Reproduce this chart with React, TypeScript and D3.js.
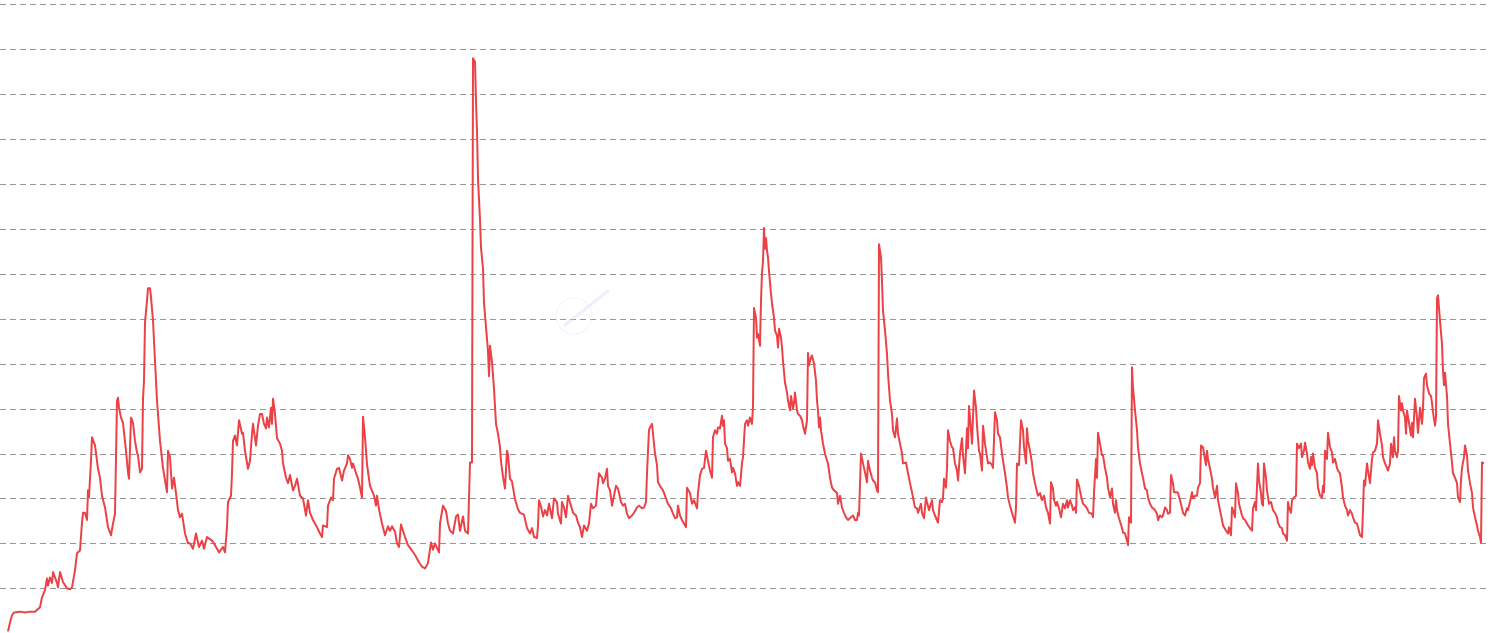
import React, { useEffect, useRef } from 'react';
import * as d3 from 'd3';

// [day, level] pairs, split into stretches
const part1: [number, number][] = [
  [0, 0.2], [2, 1.2], [4, 2.0], [6, 2.3], [12, 2.4], [17, 2.3], [22, 2.4], [27, 2.4], [30, 2.7], [32, 2.9],
  [34, 4.0], [37, 4.8], [39, 6.1], [40, 5.3], [42, 6.2], [44, 5.6], [45, 6.8], [49, 5.6], [50, 5.1], [52, 6.8],
  [55, 5.7], [59, 5.0], [62, 4.9], [64, 5.1], [67, 7.0], [69, 8.9], [72, 9.2], [74, 12.3], [75, 13.4], [77, 13.4],
  [79, 12.6], [80, 15.9], [81, 15.1], [83, 19.2], [84, 21.8], [87, 20.9], [90, 18.3], [92, 17.3], [94, 15.3], [97, 14.0],
  [100, 11.8], [103, 10.9], [105, 12.2], [107, 13.3], [109, 25.9], [110, 26.2], [111, 25.1], [113, 24.0], [115, 23.4], [118, 20.3],
  [120, 17.9], [121, 17.2], [123, 24.0], [125, 23.4], [127, 21.4], [129, 20.1], [130, 19.8], [132, 17.9], [134, 18.3], [135, 26.1],
  [136, 28.1], [137, 34.6], [139, 37.0], [140, 38.4], [142, 38.4], [143, 37.4], [145, 34.8], [147, 30.3], [149, 25.9], [152, 21.4],
  [155, 18.4], [157, 17.0], [159, 15.7], [160, 20.3], [162, 19.6], [164, 16.1], [166, 17.3], [168, 15.6], [170, 13.7], [172, 12.9],
  [174, 13.3], [177, 11.1], [180, 10.0], [182, 10.0], [185, 9.4], [188, 11.1], [191, 9.6], [194, 10.3], [196, 9.4], [199, 10.7],
  [204, 10.3], [207, 9.8], [211, 9.0], [215, 9.6], [217, 9.0], [219, 11.8], [220, 14.6], [223, 15.3], [224, 17.8], [225, 21.4],
];

const part2: [number, number][] = [
  [227, 22.0], [229, 20.9], [231, 23.7], [234, 22.2], [235, 22.3], [237, 20.3], [240, 18.3], [242, 19.2], [244, 22.2], [245, 23.3],
  [248, 20.9], [250, 23.1], [252, 24.4], [254, 24.4], [256, 23.3], [258, 22.8], [259, 24.0], [261, 22.9], [263, 25.1], [264, 23.3],
  [265, 26.1], [267, 24.4], [269, 21.7], [272, 21.1], [274, 20.3], [275, 18.9], [278, 17.3], [280, 16.7], [282, 17.6], [285, 15.9],
  [287, 16.4], [289, 17.2], [292, 15.3], [295, 15.0], [298, 13.1], [300, 14.8], [302, 13.4], [305, 12.6], [309, 11.8], [312, 11.1],
  [314, 10.7], [315, 12.0], [319, 11.8], [320, 14.2], [323, 15.1], [325, 14.8], [326, 17.2], [329, 18.3], [331, 18.4], [334, 17.0],
  [336, 18.1], [339, 18.9], [340, 19.8], [342, 19.4], [344, 18.4], [345, 18.9], [348, 17.8], [350, 17.2], [352, 16.2], [354, 15.1],
  [355, 24.1], [357, 21.8], [359, 18.8], [362, 16.4], [366, 15.3], [368, 14.2], [369, 15.3], [371, 13.8], [374, 12.2], [377, 10.9],
  [380, 11.9], [382, 11.4], [384, 11.9], [387, 11.3], [389, 10.0], [391, 9.6], [393, 12.1], [397, 10.7], [400, 9.8], [404, 9.2],
  [407, 8.7], [411, 7.9], [414, 7.4], [417, 7.2], [420, 7.8], [423, 10.1], [425, 9.3], [427, 10.0], [431, 9.0], [432, 12.2],
  [435, 14.2], [438, 13.6], [440, 12.2], [442, 11.4], [445, 11.1], [448, 13.0], [450, 13.2], [452, 11.4], [455, 13.0], [457, 11.4],
  [460, 11.1], [462, 19.0], [464, 19.0],
];

const part3: [number, number][] = [
  [465, 64.0], [467, 63.6], [468, 59.2], [469, 55.9], [470, 50.6], [472, 46.0], [473, 42.9], [475, 40.6], [476, 36.8], [478, 34.1],
  [480, 31.4], [481, 28.6], [482, 32.0], [484, 30.2], [486, 27.2], [488, 23.3], [490, 22.2], [492, 20.7], [493, 19.1], [495, 17.4],
  [497, 16.1], [499, 20.3], [500, 19.9], [502, 17.2], [504, 16.9], [507, 14.9], [510, 13.8], [512, 13.4], [516, 13.2], [519, 11.7],
  [522, 11.1], [524, 11.7], [526, 10.7], [529, 10.6], [530, 12.0], [531, 14.8], [533, 14.1], [535, 13.0], [537, 13.7], [539, 13.1],
  [541, 14.4], [544, 12.8], [546, 15.0], [549, 14.6], [550, 13.3], [553, 12.2], [554, 14.6], [556, 14.0], [558, 12.9], [560, 15.3],
  [563, 14.2], [565, 13.4], [568, 13.1], [570, 12.3], [572, 11.8], [574, 10.7], [576, 12.0], [579, 11.4], [581, 12.2], [583, 14.4],
  [585, 13.9], [588, 14.2], [589, 15.6], [591, 17.8], [594, 17.3], [595, 16.7], [597, 17.2], [599, 18.3], [600, 16.4], [602, 15.9],
  [604, 14.2], [606, 15.3], [608, 16.4], [610, 16.1], [613, 14.6], [615, 14.2], [617, 14.4], [619, 13.3], [621, 12.8], [624, 13.1],
  [626, 13.4], [629, 14.0], [631, 14.2], [634, 13.9], [636, 14.0], [638, 14.6], [639, 17.8], [641, 22.6], [642, 22.9], [644, 23.3],
  [645, 22.2], [647, 20.0], [649, 18.7], [650, 16.8], [653, 16.2], [655, 15.9], [658, 15.0], [660, 14.4], [663, 13.9], [665, 13.3],
  [667, 12.8], [669, 12.9], [670, 14.2], [672, 13.1], [674, 12.6], [676, 12.2], [678, 11.8], [679, 16.2], [682, 15.6], [684, 14.4],
  [686, 14.8], [689, 13.9], [690, 15.6], [692, 17.6], [694, 18.3], [696, 18.4], [698, 20.3], [700, 19.2], [702, 18.1], [704, 17.3],
  [705, 21.8], [707, 22.6], [709, 22.2], [710, 22.9], [712, 22.8], [714, 24.2], [715, 23.1], [716, 23.7], [717, 21.1], [719, 20.6],
  [720, 19.2], [722, 19.4], [724, 17.9], [725, 18.4], [727, 17.8], [729, 16.4], [730, 16.8], [732, 16.4], [734, 18.9], [735, 19.6],
  [737, 23.3], [739, 23.7], [740, 23.1], [742, 24.0], [744, 23.3], [745, 25.3],
];

const part4: [number, number][] = [
  [746, 36.2], [748, 35.1], [749, 32.9], [750, 33.3], [752, 32.0], [753, 37.0], [754, 40.1], [755, 41.4], [756, 45.1], [757, 42.8],
  [758, 44.0], [759, 42.6], [760, 41.8], [761, 40.3], [763, 37.8], [764, 36.7], [766, 35.1], [767, 33.7], [769, 33.1], [770, 31.8],
  [771, 33.9], [773, 32.9], [774, 31.8], [775, 30.3], [777, 27.9], [779, 26.8], [780, 25.9], [782, 24.8], [783, 26.4], [785, 25.0],
  [786, 25.6], [787, 26.8], [789, 24.8], [790, 24.4], [792, 24.2], [794, 23.7], [795, 23.1], [797, 22.2], [799, 23.7], [800, 31.2],
  [801, 29.8], [803, 30.7], [804, 30.9], [806, 30.0], [808, 28.1], [809, 25.9], [810, 24.8], [811, 22.9], [812, 24.0], [813, 22.6],
  [815, 21.1], [817, 20.0], [819, 19.2], [820, 18.9], [822, 17.3], [824, 16.2], [826, 15.9], [829, 15.6], [830, 14.4], [832, 15.3],
  [834, 14.0], [836, 13.4], [838, 12.9], [840, 12.6], [843, 12.9], [845, 13.1], [847, 12.6], [849, 12.6], [850, 13.4], [851, 13.1],
  [853, 20.0], [855, 18.9], [857, 17.9], [859, 16.8], [860, 19.2], [862, 18.1], [864, 17.3], [865, 17.0], [867, 16.8], [869, 15.9],
  [870, 15.7], [871, 43.3], [873, 41.8], [874, 39.2], [875, 35.9], [877, 33.7], [879, 31.1], [880, 28.9], [882, 25.9], [884, 24.4],
  [885, 22.6], [887, 21.8], [889, 23.9], [890, 22.2], [892, 21.1], [894, 20.0], [895, 18.9], [898, 19.0], [900, 17.8], [902, 16.7],
  [904, 15.7], [905, 15.1], [907, 14.0], [909, 13.9], [910, 13.4], [913, 14.4], [914, 13.4], [916, 12.8], [918, 15.1], [919, 14.6],
  [921, 13.7], [924, 14.8], [925, 13.7], [927, 13.1], [930, 12.3], [932, 14.8], [934, 14.6], [935, 15.0], [936, 17.2], [938, 16.2],
];

const part5: [number, number][] = [
  [939, 18.4], [940, 22.6], [942, 21.4], [944, 20.7], [945, 20.6], [947, 18.9], [949, 18.1], [950, 17.0], [952, 20.0], [954, 21.7],
  [955, 19.8], [957, 17.8], [959, 22.8], [960, 20.6], [961, 25.3], [963, 22.6], [964, 21.1], [966, 27.0], [968, 25.1], [969, 23.1],
  [971, 20.3], [972, 20.0], [974, 18.1], [975, 23.1], [977, 21.1], [979, 19.6], [980, 18.9], [982, 19.0], [984, 18.7], [985, 18.4],
  [987, 24.6], [989, 23.7], [990, 22.2], [992, 21.8], [994, 20.0], [995, 19.2], [997, 17.8], [999, 16.2], [1000, 15.1], [1002, 14.2],
  [1004, 13.4], [1007, 12.3], [1008, 14.0], [1009, 18.9], [1011, 18.7], [1013, 23.7], [1015, 22.6], [1016, 20.7], [1018, 18.9], [1019, 22.8],
  [1020, 21.4], [1022, 20.3], [1024, 18.9], [1025, 17.8], [1027, 16.7], [1029, 15.7], [1030, 15.3], [1032, 15.6], [1034, 14.8], [1036, 15.3],
  [1038, 14.0], [1040, 13.4], [1042, 12.2], [1043, 16.8], [1045, 16.1], [1046, 14.8], [1048, 14.2], [1049, 14.6], [1051, 13.9], [1053, 12.9],
  [1055, 14.4], [1057, 13.9], [1059, 14.8], [1060, 14.0], [1062, 14.8], [1064, 14.2], [1065, 13.7], [1067, 14.0], [1068, 13.4], [1069, 17.1],
  [1071, 16.4], [1073, 15.3], [1075, 14.4], [1077, 14.2], [1079, 13.9], [1081, 13.4], [1084, 13.3], [1085, 12.9], [1086, 15.6], [1088, 19.4],
  [1089, 17.3], [1090, 22.3], [1092, 21.1], [1094, 19.8], [1095, 19.8], [1097, 18.4], [1099, 17.3], [1100, 16.2], [1102, 15.1], [1104, 16.1],
  [1105, 14.4], [1107, 13.4], [1108, 14.8], [1109, 13.7], [1111, 12.8], [1114, 11.7], [1115, 11.2], [1117, 11.1], [1119, 10.3], [1120, 9.8],
  [1121, 12.9], [1123, 12.3], [1124, 29.6], [1125, 27.3], [1127, 24.8], [1129, 22.6], [1130, 20.7], [1132, 18.9], [1134, 17.8], [1135, 17.3],
  [1137, 16.1], [1139, 15.9], [1140, 15.1], [1142, 14.4], [1144, 14.0], [1145, 13.9], [1147, 13.7], [1149, 13.3], [1150, 12.6], [1152, 13.1],
  [1154, 12.9], [1155, 13.1], [1157, 14.0], [1159, 13.7], [1160, 13.3], [1162, 13.4],
];

const part6: [number, number][] = [
  [1163, 17.6], [1165, 16.7], [1166, 15.7], [1169, 15.7], [1170, 15.6], [1172, 14.8], [1174, 13.9], [1175, 13.4], [1177, 13.1], [1179, 13.9],
  [1180, 13.7], [1182, 14.6], [1184, 15.7], [1185, 15.0], [1187, 15.3], [1189, 15.3], [1190, 16.2], [1192, 16.7], [1193, 20.9], [1195, 20.7],
  [1196, 20.0], [1198, 18.7], [1199, 20.3], [1200, 19.4], [1202, 18.3], [1204, 17.2], [1205, 16.2], [1207, 15.1], [1209, 16.4], [1210, 14.8],
  [1212, 13.7], [1214, 12.6], [1215, 12.0], [1218, 11.4], [1220, 11.1], [1221, 11.8], [1223, 10.9], [1224, 14.0], [1225, 13.7], [1227, 12.9],
  [1228, 16.7], [1230, 15.6], [1231, 14.4], [1234, 13.1], [1235, 12.8], [1237, 12.6], [1239, 12.2], [1240, 12.0], [1242, 11.7], [1244, 11.4],
  [1245, 13.9], [1247, 14.6], [1248, 13.7], [1250, 18.9], [1251, 17.0], [1253, 15.6], [1254, 14.4], [1255, 14.2], [1256, 18.9], [1258, 17.3],
  [1259, 15.9], [1261, 14.4], [1263, 14.6], [1265, 13.7], [1267, 13.4], [1269, 12.9], [1270, 12.3], [1272, 11.8], [1274, 11.7], [1275, 11.1],
  [1277, 10.9], [1279, 10.3], [1280, 14.6], [1281, 14.0], [1283, 13.4], [1284, 14.8], [1286, 15.1], [1288, 15.3], [1289, 21.1], [1291, 20.6],
  [1293, 21.1], [1294, 19.6], [1296, 20.3], [1297, 21.2], [1299, 20.0], [1300, 19.0], [1302, 18.3], [1303, 19.6], [1304, 18.7], [1305, 20.0],
  [1307, 18.4], [1309, 17.8], [1310, 16.2], [1312, 15.3], [1314, 15.1], [1315, 16.4], [1316, 15.7], [1317, 20.3], [1319, 19.4], [1320, 22.3],
  [1322, 20.7], [1324, 20.1], [1325, 19.0], [1327, 19.4], [1329, 18.4], [1330, 18.1], [1332, 17.8], [1334, 16.2], [1335, 15.1], [1337, 14.2],
  [1339, 13.7], [1340, 13.1], [1342, 13.7], [1344, 13.3], [1345, 12.9], [1347, 12.3], [1349, 12.2], [1350, 11.8], [1352, 10.9], [1354, 10.7],
];

const part7: [number, number][] = [
  [1355, 13.7], [1356, 17.0], [1357, 16.4], [1359, 18.9], [1360, 18.1], [1362, 16.7], [1364, 19.4], [1365, 20.1], [1367, 20.3], [1369, 21.1],
  [1370, 23.7], [1372, 22.2], [1374, 20.9], [1375, 19.6], [1377, 18.9], [1379, 18.4], [1380, 18.1], [1382, 18.9], [1383, 21.1], [1385, 19.6],
  [1386, 21.8], [1387, 20.3], [1389, 19.6], [1390, 20.3], [1391, 26.4], [1393, 24.8], [1394, 25.6], [1395, 24.8], [1397, 24.0], [1398, 22.2],
  [1399, 24.8], [1401, 23.4], [1403, 22.0], [1404, 23.4], [1405, 21.8], [1407, 26.1], [1409, 23.9], [1410, 22.3], [1412, 25.1], [1414, 23.3],
  [1415, 25.0], [1416, 28.4], [1418, 28.9], [1419, 27.6], [1421, 26.7], [1423, 26.4], [1424, 25.6], [1425, 24.6], [1427, 23.1], [1428, 24.0],
  [1429, 37.3], [1430, 37.6], [1432, 34.8], [1434, 32.2], [1435, 29.2], [1436, 27.6], [1437, 29.0], [1439, 26.4], [1440, 23.3], [1442, 21.1],
  [1444, 19.0], [1445, 17.8], [1447, 17.3], [1449, 16.7], [1450, 15.1], [1452, 14.6], [1453, 17.0], [1454, 18.4], [1456, 19.6], [1457, 20.9],
  [1459, 19.8], [1460, 18.1], [1462, 16.7], [1464, 15.6], [1465, 14.0], [1467, 12.9], [1469, 12.0], [1470, 11.4], [1472, 10.7], [1473, 10.1],
  [1474, 19.0], [1476, 18.9],
];

const series = [...part1, ...part2, ...part3, ...part4, ...part5, ...part6, ...part7];
const gridLevels = [5, 10, 15, 20, 25, 30, 35, 40, 45, 50, 55, 60, 65, 70];

const W = 1490;
const H = 633;

const App = () => {
  const ref = useRef<SVGSVGElement | null>(null);

  useEffect(() => {
    if (!ref.current) return;
    const svg = d3.select(ref.current);
    svg.selectAll('*').remove();

    const x = d3.scaleLinear().domain([0, 1476]).range([8, 1484]);
    const y = d3.scaleLinear().domain([0, 70]).range([633.2, 4.3]);

    svg
      .append('g')
      .selectAll('line')
      .data(gridLevels)
      .enter()
      .append('line')
      .attr('x1', 0)
      .attr('x2', 1487)
      .attr('y1', (d) => Math.round(y(d)) + 0.5)
      .attr('y2', (d) => Math.round(y(d)) + 0.5)
      .attr('stroke', '#959595')
      .attr('stroke-width', 1)
      .attr('stroke-dasharray', '6,4');

    // faint watermark
    const wm = svg.append('g').attr('opacity', 0.35);
    wm.append('circle').attr('cx', 574).attr('cy', 316).attr('r', 18).attr('fill', 'none').attr('stroke', '#e4e4ee').attr('stroke-width', 1.2);
    wm.append('line').attr('x1', 565).attr('y1', 325).attr('x2', 608).attr('y2', 291).attr('stroke', '#d8d0f4').attr('stroke-width', 3).attr('stroke-linecap', 'round');

    const line = d3
      .line<[number, number]>()
      .x((d) => x(d[0]))
      .y((d) => y(d[1]));

    svg
      .append('path')
      .datum(series)
      .attr('d', line)
      .attr('fill', 'none')
      .attr('stroke', '#eb4247')
      .attr('stroke-width', 2)
      .attr('stroke-linejoin', 'round');
  }, []);

  return (
    <div style={{ position: 'fixed', left: 0, top: 0, width: W, height: H, background: '#fff' }}>
      <svg ref={ref} width={W} height={H} />
    </div>
  );
};

export default App;
